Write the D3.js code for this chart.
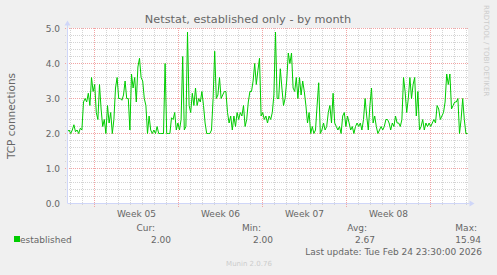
<!DOCTYPE html>
<html>
<head>
<meta charset="utf-8">
<script src="https://cdn.jsdelivr.net/npm/d3@7"></script>
<style>
    body { margin: 0; background: #f0f0f0; }
    text { font-family: "DejaVu Sans", sans-serif; fill: #666666; }
</style>
</head>
<body>
<div id="chart"></div>
<script>
// Data (established connections, one value per sample)
const established = [
    2.05, 2.1, 2.0, 2.1, 2.25, 2.05, 2.1, 2.0, 2.15,
    2.1, 2.9, 3.0, 2.9, 3.15, 2.8, 3.6, 3.2, 3.4, 2.6,
    2.4, 3.4, 2.7, 2.2, 2.4, 2.0, 2.8, 2.3, 2.6, 2.0,
    2.4, 3.3, 3.6, 3.0, 3.0, 2.95, 3.1, 3.5, 3.0, 3.0,
    2.1, 3.7, 3.3, 3.6, 2.9, 3.9, 4.15, 3.6, 3.5, 3.0,
    2.8, 2.0, 2.5, 2.1, 2.0, 2.1, 2.0, 2.2, 2.0, 2.0,
    2.0, 2.0, 4.0,
    2.0, 2.0, 2.0, 2.45, 2.4, 2.6, 2.1, 2.3, 2.1,
    2.4, 4.2, 2.1, 2.2, 4.9, 2.8, 2.6, 3.15, 2.8, 3.3,
    2.8, 3.0, 2.9, 3.2, 2.8, 2.3, 2.0, 2.0, 2.0, 2.1,
    3.0, 4.35, 3.0, 3.1, 3.6, 3.0, 3.1, 3.2, 3.2, 2.6,
    2.3, 2.5, 2.1, 2.5, 2.2, 2.6, 2.4, 2.6, 2.5, 2.8,
    2.2, 2.4, 2.9, 3.2, 3.2, 3.5, 4.0, 3.4, 3.8, 4.15,
    2.5, 2.6, 2.4, 2.5,
    2.3, 2.5, 2.4, 2.6, 3.1, 4.9, 3.0, 3.0, 3.85, 3.3,
    2.8, 3.0, 3.5, 4.3, 4.0, 4.3, 3.3, 3.2, 3.6, 3.0,
    3.6, 3.1, 3.5, 3.2, 2.8, 2.3, 2.6, 2.0, 2.2, 2.0,
    2.1, 2.8, 3.45, 2.0, 2.1, 2.3, 2.1, 2.2, 2.6, 2.8,
    2.3, 3.15, 2.3, 2.2, 2.1, 2.2, 2.0, 2.5, 2.6, 2.2,
    2.5, 2.3, 2.1, 2.2, 2.0, 2.2, 2.3, 2.2, 2.3, 2.1,
    2.4, 3.0, 2.5, 2.1,
    2.8, 3.3, 2.3, 2.5, 2.2, 2.0, 2.1, 2.2, 2.1, 2.2,
    2.4, 2.4, 2.3, 2.1, 2.3, 2.2, 2.5, 2.3, 2.3, 2.2,
    2.4, 3.6, 3.2, 2.6, 3.0, 3.6, 3.0, 3.4, 3.6, 2.5,
    3.2, 2.1, 2.2, 2.4, 2.1, 2.3, 2.2, 2.3, 2.2, 2.3,
    2.4, 2.3, 2.8, 2.7, 2.4, 2.5, 2.6, 2.9, 3.7, 3.4,
    3.7, 2.7, 2.8, 2.9, 2.9, 3.0, 2.0, 2.4, 3.0, 2.4,
    2.0, 2.0
];
const yTicks = [0, 1, 2, 3, 4, 5];
const statLabels = ["Cur:", "Min:", "Avg:", "Max:"];
const statValues = ["2.00", "2.00", "2.67", "15.94"];
const seriesName = "established";
const lastUpdate = "Last update: Tue Feb 24 23:30:00 2026";
const startTime = new Date(Date.UTC(2026, 0, 22, 18));
const endTime = new Date(Date.UTC(2026, 1, 25, 2));

const W = 497, H = 275;
const plotLeft = 67.5, plotRight = 467.5, plotTop = 28.5, plotBottom = 203.5;
const gridColor = "#d4d4d4";
const majorColor = "#f2a4a4";
const axisColor = "#CFD6F8";

const svg = d3.select("#chart")
    .append("svg")
    .attr("width", W)
    .attr("height", H);

svg.append("rect").attr("width", W).attr("height", H).attr("fill", "#f0f0f0");
svg.append("rect")
    .attr("x", 67).attr("y", 28)
    .attr("width", 401).attr("height", 176)
    .attr("fill", "#ffffff");

// scales
const x = d3.scaleTime().domain([startTime, endTime]).range([plotLeft, plotRight]);
const y = d3.scaleLinear().domain([0, 5]).range([plotBottom, plotTop]);
const px = v => Math.round(v - 0.5) + 0.5; // snap to pixel centre

// minor grid: every 0.2 and every day
const minorY = d3.range(0, 5.01, 0.2).filter(v => Math.abs(v - Math.round(v)) > 0.01);
svg.append("g").selectAll("line")
    .data(minorY)
    .enter().append("line")
    .attr("x1", 65).attr("x2", 468)
    .attr("y1", d => px(y(d)))
    .attr("y2", d => px(y(d)))
    .attr("stroke", gridColor)
    .attr("stroke-dasharray", "1,1");

const days = d3.utcDay.range(startTime, endTime).filter(d => d.getUTCDay() !== 0);
svg.append("g").selectAll("line")
    .data(days)
    .enter().append("line")
    .attr("x1", d => px(x(d))).attr("x2", d => px(x(d)))
    .attr("y1", 28).attr("y2", 206)
    .attr("stroke", gridColor)
    .attr("stroke-dasharray", "1,1");

// major grid
svg.append("g").selectAll("line")
    .data(yTicks.slice(1))
    .enter().append("line")
    .attr("x1", 65).attr("x2", 468)
    .attr("y1", d => px(y(d))).attr("y2", d => px(y(d)))
    .attr("stroke", majorColor)
    .attr("stroke-dasharray", "1,1");

const weeks = d3.utcSunday.range(startTime, endTime);
svg.append("g").selectAll("line")
    .data(weeks)
    .enter().append("line")
    .attr("x1", d => px(x(d))).attr("x2", d => px(x(d)))
    .attr("y1", 28).attr("y2", 207)
    .attr("stroke", majorColor)
    .attr("stroke-dasharray", "1,1");

// y tick labels
svg.append("g").selectAll("text")
    .data(yTicks)
    .enter().append("text")
    .attr("x", 60)
    .attr("y", d => y(d) + 3.5)
    .attr("text-anchor", "end")
    .style("font-size", "9px")
    .text(d => d3.format(".1f")(d));

// week labels centred in the week
const weekMid = d3.utcSunday.range(d3.utcSunday.floor(startTime), endTime)
    .map(d => d3.utcHour.offset(d, 84))
    .filter(d => d > startTime && d < endTime);
svg.append("g").selectAll("text")
    .data(weekMid)
    .enter().append("text")
    .attr("x", d => x(d))
    .attr("y", 217)
    .attr("text-anchor", "middle")
    .style("font-size", "9px")
    .text(d => "Week " + d3.utcFormat("%V")(d));

// the line
const line = d3.line()
    .x((d, i) => x(new Date(+startTime + i * (endTime - startTime) / (established.length - 1))))
    .y(d => y(d));

svg.append("path")
    .datum(established)
    .attr("d", line)
    .attr("fill", "none")
    .attr("stroke", "#00cc00")
    .attr("stroke-width", 1);

// axes with arrows
svg.append("line")
    .attr("x1", plotLeft).attr("x2", plotLeft)
    .attr("y1", plotBottom).attr("y2", plotTop - 4)
    .attr("stroke", axisColor);
svg.append("line")
    .attr("x1", plotLeft).attr("x2", plotRight + 2)
    .attr("y1", plotBottom).attr("y2", plotBottom)
    .attr("stroke", axisColor);
svg.append("path")
    .attr("d", `M${plotLeft - 3},${plotTop - 3} L${plotLeft + 3},${plotTop - 3} L${plotLeft},${plotTop - 8} Z`)
    .attr("fill", axisColor);
svg.append("path")
    .attr("d", `M${plotRight + 2},${plotBottom - 3} L${plotRight + 2},${plotBottom + 3} L${plotRight + 7},${plotBottom} Z`)
    .attr("fill", axisColor);

// title and axis label
svg.append("text")
    .attr("x", 248)
    .attr("y", 23)
    .attr("text-anchor", "middle")
    .style("font-size", "11.3px")
    .text("Netstat, established only - by month");

svg.append("text")
    .attr("transform", "translate(15," + ((plotTop + plotBottom) / 2) + ") rotate(-90)")
    .attr("text-anchor", "middle")
    .style("font-size", "10.5px")
    .text("TCP connections");

svg.append("text")
    .attr("transform", "translate(484,5) rotate(90)")
    .attr("text-anchor", "start")
    .style("font-size", "7.1px")
    .style("fill", "#cccccc")
    .text("RRDTOOL / TOBI OETIKER");

// legend
svg.append("rect")
    .attr("x", 14).attr("y", 236)
    .attr("width", 6).attr("height", 6)
    .attr("fill", "#00cc00");
svg.append("text")
    .attr("x", 20).attr("y", 243)
    .style("font-size", "9px")
    .text(seriesName);

const labelRight = [155, 261, 367, 477];
const valueRight = [171, 273, 375, 481];
statLabels.forEach((s, i) => {
    svg.append("text")
        .attr("x", labelRight[i]).attr("y", 231)
        .attr("text-anchor", "end")
        .style("font-size", "9px")
        .text(s);
    svg.append("text")
        .attr("x", valueRight[i]).attr("y", 243)
        .attr("text-anchor", "end")
        .style("font-size", "9px")
        .text(statValues[i]);
});

svg.append("text")
    .attr("x", 482).attr("y", 255)
    .attr("text-anchor", "end")
    .style("font-size", "9px")
    .text(lastUpdate);

svg.append("text")
    .attr("x", 249).attr("y", 266)
    .attr("text-anchor", "middle")
    .style("font-size", "7px")
    .style("fill", "#cccccc")
    .text("Munin 2.0.76");
</script>
</body>
</html>
